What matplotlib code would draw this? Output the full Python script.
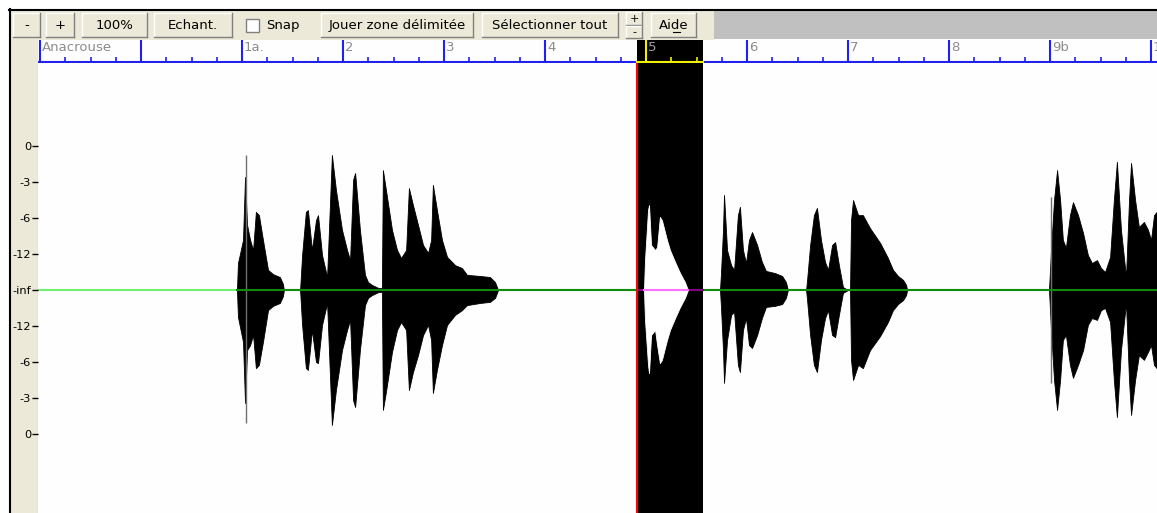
import numpy as np
import matplotlib
matplotlib.use("Agg")
import matplotlib.pyplot as plt
from matplotlib.patches import Rectangle

plt.rcParams['font.family'] = ['DejaVu Sans']

# waveform envelope: time in beats, amplitude in scale steps (4 = 0 dB)
env_t = [7.80, 7.84, 8.04, 8.12, 8.20, 8.32, 8.44, 8.55, 8.67, 8.83, 9.03, 9.23, 9.50, 9.62, 9.66,
         10.30, 10.38, 10.53, 10.61, 10.77, 10.93, 11.01, 11.17, 11.37, 11.49, 11.56, 11.72, 11.96,
         12.16, 12.28, 12.40, 12.48, 12.67, 12.87, 12.99, 13.15, 13.39, 13.54, 13.58, 13.70, 13.94,
         14.14, 14.30, 14.50, 14.61, 14.77, 14.97, 15.17, 15.37, 15.49, 15.56, 15.72, 15.92, 16.12,
         16.44, 16.71, 16.91, 17.43, 17.82, 18.02, 18.14,
         26.93, 26.97, 27.05, 27.09, 27.21, 27.37, 27.49, 27.64, 27.72, 27.84, 27.96, 28.08, 28.20,
         28.40, 28.59, 28.75, 29.11, 29.39, 29.54, 29.62,
         30.34, 30.38, 30.50, 30.65, 30.77, 30.93, 31.09, 31.21, 31.37, 31.49, 31.64, 31.80, 32.00,
         32.08, 32.12, 32.20, 32.40, 32.59, 32.87, 33.27, 33.58, 33.78, 33.98, 34.18, 34.30, 34.34,
         39.96, 40.04, 40.16, 40.28, 40.40, 40.51, 40.63, 40.79, 40.91, 41.11, 41.31, 41.50, 41.66,
         41.86, 42.02, 42.18, 42.38, 42.53, 42.65, 42.81, 43.01, 43.13, 43.21, 43.37, 43.52, 43.72,
         43.88, 44.00, 44.12, 44.28]
env_top = [0, 0.75, 1.39, 3.14, 1.81, 1.39, 1.11, 2.17, 2.08, 1.39, 0.56, 0.44, 0.36, 0.17, 0,
           0, 0.97, 2.17, 2.22, 1.11, 1.94, 2.08, 0.97, 0.36, 2.50, 3.75, 2.78, 1.67,
           1.11, 0.83, 3.06, 3.25, 1.67, 0.42, 0.22, 0.14, 0.06, 0.05, 3.33, 2.78, 1.67,
           1.11, 0.89, 1.11, 2.83, 2.36, 1.81, 1.25, 1.03, 1.39, 2.92, 2.22, 1.39, 0.92,
           0.69, 0.61, 0.42, 0.39, 0.36, 0.22, 0,
           0, 0.47, 1.67, 2.64, 1.11, 0.69, 0.56, 2.08, 2.31, 1.11, 0.75, 1.39, 1.61,
           1.25, 0.78, 0.53, 0.47, 0.39, 0.22, 0,
           0, 0.28, 1.25, 2.08, 2.28, 1.39, 0.78, 0.56, 1.25, 1.33, 0.69, 0.08, 0,
           0, 1.94, 2.50, 2.08, 2.08, 1.72, 1.31, 0.89, 0.56, 0.39, 0.28, 0.14, 0,
           0, 1.11, 2.50, 3.33, 2.50, 1.39, 1.17, 2.08, 2.44, 2.08, 1.58, 0.97, 0.75,
           0.83, 0.61, 0.50, 0.92, 2.50, 3.56, 1.67, 0.36, 2.50, 3.53, 2.50, 1.75, 1.89,
           1.67, 1.39, 2.08, 2.22]
env_bot = [0, 0.75, 1.44, 3.14, 1.67, 1.53, 1.25, 2.17, 2.08, 1.44, 0.56, 0.44, 0.36, 0.17, 0,
           0, 0.97, 2.17, 2.22, 1.11, 2.00, 2.03, 0.97, 0.36, 2.50, 3.75, 2.78, 1.67,
           1.11, 0.83, 3.06, 3.25, 1.67, 0.42, 0.22, 0.14, 0.06, 0.05, 3.33, 2.83, 1.72,
           1.11, 0.89, 1.11, 2.78, 2.28, 1.81, 1.25, 0.97, 1.39, 2.86, 2.22, 1.53, 0.97,
           0.69, 0.56, 0.42, 0.36, 0.33, 0.22, 0,
           0, 0.47, 1.67, 2.58, 1.39, 0.69, 0.61, 2.08, 2.28, 1.11, 0.78, 1.53, 1.61,
           1.25, 0.78, 0.47, 0.44, 0.39, 0.22, 0,
           0, 0.28, 1.25, 2.08, 2.28, 1.39, 0.78, 0.56, 1.25, 1.31, 0.69, 0.08, 0,
           0, 1.94, 2.50, 2.08, 2.17, 1.67, 1.28, 0.89, 0.56, 0.39, 0.28, 0.14, 0,
           0, 1.11, 2.50, 3.33, 2.50, 1.39, 1.25, 2.08, 2.44, 2.08, 1.67, 0.97, 0.78,
           0.83, 0.56, 0.50, 0.89, 2.50, 3.53, 1.67, 0.36, 2.50, 3.47, 2.50, 1.81, 1.94,
           1.72, 1.53, 2.08, 2.22]

# part of the waveform inside the selection (drawn inverted)
sel_t = [23.92, 23.96, 24.08, 24.12, 24.20, 24.36, 24.44, 24.55, 24.63, 24.83, 24.95, 25.15, 25.35, 25.54, 25.66]
sel_top = [0, 0.83, 2.22, 2.36, 1.25, 1.11, 1.19, 2.03, 1.94, 1.39, 1.11, 0.78, 0.47, 0.22, 0]
sel_bot = [0, 0.83, 2.08, 2.31, 1.25, 1.11, 1.53, 2.03, 1.94, 1.39, 1.11, 0.78, 0.47, 0.22, 0]

# single-sample spikes
spike_t = [8.16, 40.04]
spike_top = [3.75, 2.58]
spike_bot = [3.69, 2.58]

level_pos = [4, 3, 2, 1, 0, -1, -2, -3, -4]
level_labels = ['0', '-3', '-6', '-12', '-inf', '-12', '-6', '-3', '0']

bar_beats = [0, 4, 8, 12, 16, 20, 24, 28, 32, 36, 40, 44]
bar_labels = ['Anacrouse', '', '1a.', '2', '3', '4', '5', '6', '7', '8', '9b', '10']

sel_start, sel_end = 23.64, 26.26

# toolbar buttons (pixel x range, label)
buttons = [(13, 40, '-'), (46, 74, '+'), (82, 147, '100%'), (154, 232, 'Echant.'),
           (321, 473, 'Jouer zone délimitée'), (482, 618, 'Sélectionner tout'), (651, 696, 'Aide')]

W, H = 1157, 513
BEIGE = '#ECE9D8'
fig = plt.figure(figsize=(W / 100, H / 100), dpi=100, facecolor='white')

# background / toolbar in pixel coordinates
bg = fig.add_axes([0, 0, 1, 1])
bg.set_xlim(0, W)
bg.set_ylim(H, 0)
bg.axis('off')
bg.add_patch(Rectangle((10, 10), 704, 30, color=BEIGE, lw=0))
bg.add_patch(Rectangle((714, 10), W - 714, 29, color='#C0C0C0', lw=0))
bg.add_patch(Rectangle((10, 40), 28, H - 40, color=BEIGE, lw=0))
bg.plot([9, W], [9.5, 9.5], color='black', lw=1.5)
bg.plot([9.5, 9.5], [9, H], color='black', lw=1.5)
bg.plot([37.5, 37.5], [63, H], color='#B0AC9C', lw=0.8)


def button(x0, x1, y0, y1, label=None, size=9.5):
    bg.add_patch(Rectangle((x0, y0), x1 - x0, y1 - y0, color=BEIGE, lw=0))
    bg.plot([x0, x1], [y0, y0], color='white', lw=1)
    bg.plot([x0, x0], [y0, y1], color='white', lw=1)
    bg.plot([x0, x1], [y1, y1], color='#808080', lw=1)
    bg.plot([x1, x1], [y0, y1], color='#808080', lw=1)
    if label:
        bg.text((x0 + x1) / 2, (y0 + y1) / 2 + 0.5, label, ha='center', va='center',
                fontsize=size, color='black')


for x0, x1, lab in buttons:
    button(x0, x1, 13, 37, lab)
# underline of the accelerator key in "Aide"
bg.plot([673, 680], [31.5, 31.5], color='black', lw=0.8)
button(626, 642, 12, 25, '+', 8)
button(626, 642, 25.5, 38, '-', 8)
bg.add_patch(Rectangle((246, 19), 13, 13, facecolor='white', edgecolor='#808080', lw=1))
bg.text(266, 25.5, 'Snap', ha='left', va='center', fontsize=9.5, color='black')

x_lo = (38 - 40) / 25.25
x_hi = (W - 40) / 25.25

# waveform panel
ax = fig.add_axes([38 / W, 0, (W - 38) / W, 450 / H])
ax.set_facecolor('#FEFEFE')
ax.set_xlim(x_lo, x_hi)
ax.set_ylim(-223 / 36, 227 / 36)
for s in ax.spines.values():
    s.set_visible(False)
ax.set_xticks([])
ax.set_yticks(level_pos)
ax.set_yticklabels(level_labels)
ax.tick_params(axis='y', direction='out', length=4, width=1, pad=1, labelsize=8.2, colors='black')

t = np.array(env_t)
top = np.array(env_top)
bot = np.array(env_bot)
ax.axhline(0, color='#70F070', lw=1.5, zorder=1)
ax.fill_between(t, top, -bot, color='black', lw=0.6, edgecolor='black', zorder=2)
ax.vlines(spike_t, -np.array(spike_bot), spike_top, color='#707070', lw=1, zorder=2)
on = (top > 0) | (np.roll(top, 1) > 0) | (np.roll(top, -1) > 0)
ax.plot(t, np.where(on, 0, np.nan), color='#108A10', lw=1.5, zorder=3)

ax.axvspan(sel_start, sel_end, color='black', lw=0, zorder=4)
ax.plot([sel_start, sel_end], [0, 0], color='#800080', lw=1.5, zorder=5)
ax.fill_between(sel_t, sel_top, -np.array(sel_bot), color='white', lw=0.6, edgecolor='white', zorder=5)
ax.plot([sel_t[0], sel_t[-1]], [0, 0], color='#FF70FF', lw=1.5, zorder=6)
ax.axvline(sel_start, color='red', lw=1.5, zorder=7)

# ruler
ar = fig.add_axes([38 / W, 450 / H, (W - 38) / W, 23 / H])
ar.set_xlim(x_lo, x_hi)
ar.set_ylim(0, 23)
ar.axis('off')
ar.add_patch(Rectangle((x_lo, 0), x_hi - x_lo, 23, color='#FEFEFE', lw=0, zorder=0))
ar.axhline(1, color='#2020F0', lw=1.5, zorder=1)
beats = np.arange(0, 45)
minor = [b for b in beats if b % 4 != 0]
ar.vlines(minor, 1, 6, color='#2020F0', lw=1.2, zorder=1)
ar.vlines(bar_beats, 1, 23, color='#2020F0', lw=1.5, zorder=1)
for b, lab in zip(bar_beats, bar_labels):
    if b == 24:
        continue
    ar.text(b + 0.08, 22, lab, ha='left', va='top', fontsize=9.5, color='#8C8C8C', zorder=2,
            clip_on=True)
ar.add_patch(Rectangle((sel_start, 0), sel_end - sel_start, 23, color='black', lw=0, zorder=3))
ar.plot([sel_start, sel_end], [1, 1], color='#F0F000', lw=1.5, zorder=4)
ar.vlines([25, 26], 1, 6, color='#F0F000', lw=1.2, zorder=4)
ar.vlines([24], 1, 23, color='#F0F000', lw=1.5, zorder=4)
ar.text(24 + 0.08, 22, bar_labels[6], ha='left', va='top', fontsize=9.5, color='#A0A0A0', zorder=5)

fig.savefig('out.png', dpi=100, facecolor='white')
